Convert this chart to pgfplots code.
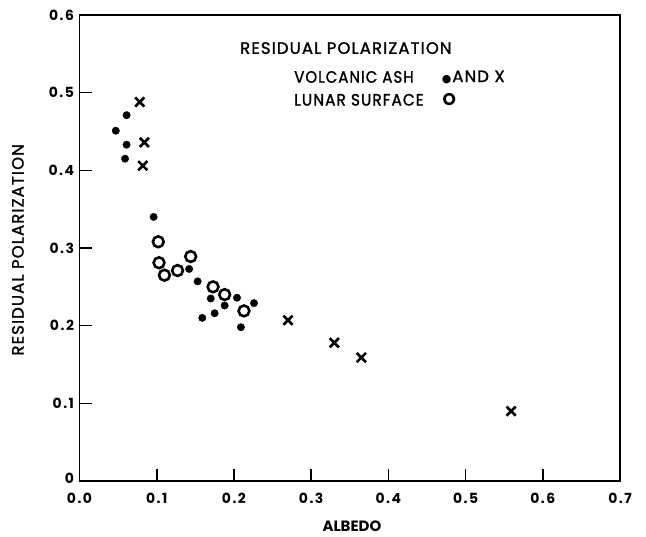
\documentclass[border=0pt]{standalone}
\usepackage{fontspec}
\setmainfont{Poppins}
\newfontfamily\medfont{Poppins}[FakeBold=1.5, LetterSpace=7]
\newfontfamily\dejavu{DejaVu Sans}
\usepackage{pgfplots}
\pgfplotsset{compat=1.18}
\newcommand{\tl}[3]{#1\kern1.5bp#2\kern1.5bp#3}
\newcommand{\legfont}{\medfont\fontsize{16.5}{18}\selectfont}
\begin{document}
\begin{tikzpicture}[x=1bp,y=1bp]
\path[use as bounding box] (0,0) rectangle (646,537);
\begin{axis}[
  at={(79.5bp,56bp)}, anchor=south west,
  scale only axis, width=540.5bp, height=466bp,
  xmin=0, xmax=0.7, ymin=0, ymax=0.6,
  axis line style={line width=1.6bp, black},
  xtick={0,0.1,...,0.7},
  ytick={0,0.1,...,0.6},
  xticklabels={\tl0.0,\tl0.1,\tl0.2,\tl0.3,\tl0.4,\tl0.5,\tl0.6,\tl0.7},
  yticklabels={\raisebox{6bp}{0},\tl0.1,\tl0.2,\tl0.3,\tl0.4,\tl0.5,\tl0.6},
  xtick pos=bottom, ytick pos=left,
  tick align=inside,
  major tick length=12bp,
  tick style={line width=1.6bp, black},
  /pgf/number format/assume math mode=true,
  ticklabel style={font=\bfseries\fontsize{14}{16}\selectfont},
  xticklabel style={yshift=-9bp},
  yticklabel style={xshift=-2bp},
  clip=false,
]
\addplot[only marks, mark=*, mark size=3.7bp, black] coordinates {
(0.047,0.451) (0.061,0.471) (0.061,0.433) (0.059,0.415) (0.096,0.340)
(0.142,0.273) (0.153,0.257) (0.170,0.235) (0.204,0.236) (0.188,0.226)
(0.226,0.229) (0.175,0.216) (0.159,0.210) (0.209,0.198)
};
\addplot[only marks, mark=x, mark size=6.5bp, black, mark options={line width=2.6bp}] coordinates {
(0.078,0.488) (0.084,0.436) (0.082,0.406) (0.270,0.207) (0.330,0.178)
(0.365,0.159) (0.559,0.090)
};
\addplot[only marks, mark=o, mark size=5.4bp, black, mark options={line width=2.6bp, fill=white}] coordinates {
(0.102,0.308) (0.103,0.281) (0.110,0.265) (0.127,0.271) (0.144,0.289)
(0.173,0.250) (0.188,0.240) (0.213,0.219)
};
\node[font=\legfont, anchor=west, inner sep=0pt] at (axis description cs:0.297,0.929) {RESIDUAL POLARIZATION};
\node[font=\legfont, anchor=west, inner sep=0pt] at (axis description cs:0.397,0.867) {\scalebox{0.91}[1]{VOLCANIC ASH}};
\node[font=\legfont, anchor=west, inner sep=0pt] at (axis description cs:0.670,0.867) {{\dejavu\fontsize{11}{12}\selectfont ●}\kern1bp AND X};
\node[font=\legfont, anchor=west, inner sep=0pt] at (axis description cs:0.397,0.818) {\scalebox{0.93}[1]{LUNAR SURFACE}};
\node[font=\bfseries\fontsize{17}{18}\selectfont, anchor=center, inner sep=0pt] at (axis description cs:0.684,0.818) {O};
\node[font=\bfseries\fontsize{15}{17}\selectfont] at (axis description cs:0.504,-0.0966) {ALBEDO};
\node[font=\legfont, rotate=90] at (axis description cs:-0.114,0.496) {RESIDUAL POLARIZATION};
\end{axis}
\end{tikzpicture}
\end{document}
